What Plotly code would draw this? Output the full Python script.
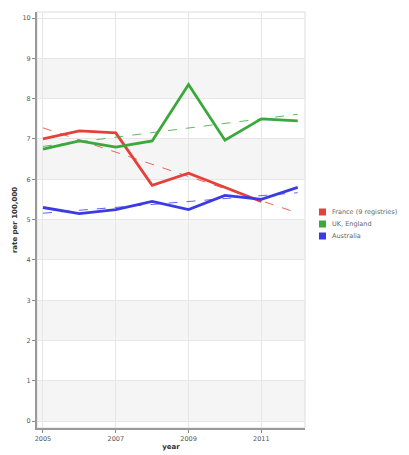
import plotly.graph_objects as go
import numpy as np

years = [2005, 2006, 2007, 2008, 2009, 2010, 2011, 2012]
france = [7.0, 7.2, 7.15, 5.85, 6.15, 5.8, 5.45]
uk = [6.75, 6.95, 6.8, 6.95, 8.35, 6.97, 7.5, 7.45]
australia = [5.3, 5.15, 5.25, 5.45, 5.25, 5.6, 5.5, 5.8]
names = ["France (9 registries)", "UK, England", "Australia"]
colors = ["#e5413b", "#3aa83a", "#3b3be6"]
series = [france, uk, australia]

W, H = 401, 447
ML, MR, MT, MB = 29, 104, 4, 27
PW, PH = W - ML - MR, H - MT - MB

fig = go.Figure()

# alternating bands
for k in range(0, 10, 2):
    fig.add_shape(type="rect", xref="paper", x0=0, x1=1, y0=k, y1=k + 1,
                  fillcolor="#f5f5f5", line_width=0, layer="below")

for name, col, vals in zip(names, colors, series):
    xs = years[:len(vals)]
    fig.add_trace(go.Scatter(x=xs, y=vals, mode="lines", line=dict(color=col, width=2.8),
                             name=name, showlegend=False))
    # linear trend across full year range
    p = np.polyfit(xs, vals, 1)
    tx = [years[0], years[-1]]
    fig.add_trace(go.Scatter(x=tx, y=np.polyval(p, tx), mode="lines",
                             line=dict(color=col, width=1, dash="dash"), opacity=0.8,
                             showlegend=False))

# manual legend (square swatches + labels)
def px_x(fx):
    return (fx - ML) / PW

def px_y(fy):
    return (H - MB - fy) / PH

row_y = [204, 216, 228]
for name, col, ry in zip(names, colors, row_y):
    fig.add_shape(type="rect", xref="paper", yref="paper",
                  x0=px_x(311), x1=px_x(318), y0=px_y(ry + 3.5), y1=px_y(ry - 3.5),
                  fillcolor=col, line_width=0)
    fig.add_annotation(xref="paper", yref="paper", x=px_x(322), y=px_y(ry),
                       xanchor="left", yanchor="middle", showarrow=False, text=name,
                       font=dict(family="DejaVu Sans", size=6.5, color="#666"))

fig.update_layout(
    width=W, height=H,
    margin=dict(l=ML, r=MR, t=MT, b=MB, autoexpand=False),
    plot_bgcolor="white", paper_bgcolor="white",
    font=dict(family="DejaVu Sans", size=6.5, color="#555"),
    showlegend=False,
    xaxis=dict(range=[2004.836, 2012.2], tickvals=[2005, 2007, 2009, 2011],
               showgrid=True, gridcolor="#e6e6e6", gridwidth=1,
               ticks="outside", ticklen=3, tickcolor="#888",
               showline=True, linecolor="#999", linewidth=2, mirror=False,
               zeroline=False, automargin=False,
               title=dict(text="<b>year</b>", standoff=1, font=dict(size=7, color="#333"))),
    yaxis=dict(range=[-0.17, 10.15], tickvals=list(range(0, 11)),
               showgrid=True, gridcolor="#e6e6e6", gridwidth=1,
               ticks="outside", ticklen=3, tickcolor="#888",
               showline=True, linecolor="#999", linewidth=2,
               zeroline=False, automargin=False,
               title=dict(text="<b>rate per 100,000</b>", standoff=4, font=dict(size=7, color="#333"))),
)
fig.add_shape(type="rect", xref="paper", yref="paper", x0=0, x1=1, y0=0, y1=1,
              line=dict(color="#ddd", width=1), layer="below")

fig.write_html("out.html")
